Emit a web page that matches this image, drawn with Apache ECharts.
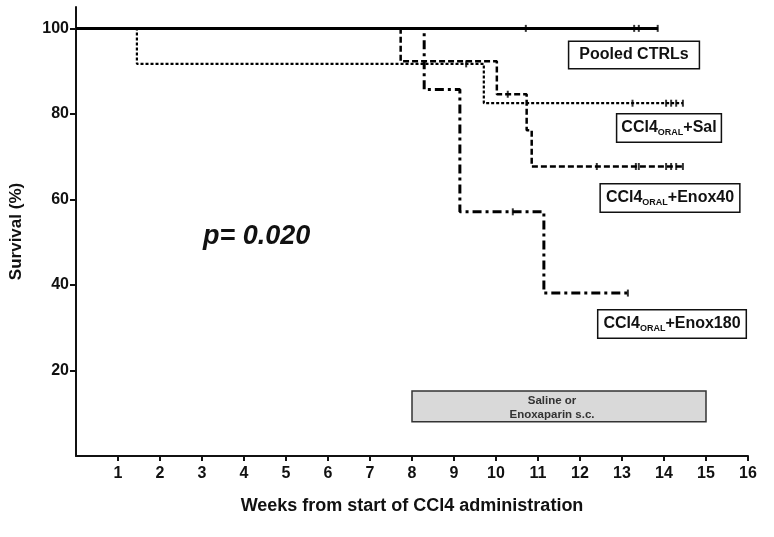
<!DOCTYPE html>
<html><head><meta charset="utf-8">
<script src="https://cdn.jsdelivr.net/npm/echarts@6/dist/echarts.min.js"></script>
<style>html,body{margin:0;padding:0;background:#fff}#c{width:774px;height:537px}</style>
</head><body><div id="c"></div>
<script>
// Kaplan-Meier step curves (weeks, survival %)
const pooledWeeks = [0, 13.86];
const pooledSurv  = [100, 100];
const salWeeks = [0, 1.45, 9.71, 14.45];
const salSurv  = [100, 91.7, 82.5, 82.5];
const enox40Weeks = [0, 7.73, 10.02, 10.73, 10.85, 14.45];
const enox40Surv  = [100, 92.3, 84.6, 76.2, 67.7, 67.7];
const enox180Weeks = [0, 8.29, 9.14, 11.14, 13.14];
const enox180Surv  = [100, 85.7, 57.1, 38.1, 38.1];
// censored observations
const pooledCensWeeks = [10.71, 13.29, 13.40, 13.85];
const pooledCensSurv  = [100, 100, 100, 100];
const salCensWeeks = [9.29, 13.25, 14.05, 14.17, 14.29, 14.45];
const salCensSurv  = [91.7, 82.5, 82.5, 82.5, 82.5, 82.5];
const enox40CensWeeks = [10.28, 12.40, 13.33, 13.40, 14.05, 14.17, 14.29, 14.45];
const enox40CensSurv  = [84.6, 67.7, 67.7, 67.7, 67.7, 67.7, 67.7, 67.7];
const enox180CensWeeks = [10.40, 13.14];
const enox180CensSurv  = [57.1, 38.1];
// treatment window
const treatStart = 8, treatEnd = 15, treatLow = 8, treatHigh = 15.2;
const treatLabel = 'Saline or\nEnoxaparin s.c.';
const xTicks = [1,2,3,4,5,6,7,8,9,10,11,12,13,14,15,16];
const yTicks = [20,40,60,80,100];
const groupLabels = ['Pooled CTRLs', 'CCl4{s|ORAL}+Sal', 'CCl4{s|ORAL}+Enox40', 'CCl4{s|ORAL}+Enox180'];

const zip = (a, b) => a.map((v, i) => [v, b[i]]);
const FONT = '"Liberation Sans", Arial, sans-serif';

const chart = echarts.init(document.getElementById('c'), null, {renderer: 'canvas'});

function stepSeries(name, w, s, type, width, dash) {
  return {
    name, type: 'line', step: 'end', data: zip(w, s), symbol: 'none',
    lineStyle: {color: '#000', width, type: dash || type, cap: 'butt'},
    z: 3
  };
}
function censorSeries(w, s) {
  return {
    type: 'scatter', data: zip(w, s), symbol: 'rect', symbolSize: [2, 7],
    itemStyle: {color: '#000'}, z: 4
  };
}
const labelStyle = {
  fontFamily: FONT, fontWeight: 'bold', fontSize: 16, fill: '#111',
  backgroundColor: '#fff', borderColor: '#111', borderWidth: 1.5,
  align: 'center', verticalAlign: 'middle',
  rich: {s: {fontFamily: FONT, fontWeight: 'bold', fontSize: 9, fill: '#111', padding: [10, 0, 0, 0]}}
};
function box(text, x, y, pad) {
  return {type: 'text', x, y, z: 10, style: Object.assign({}, labelStyle, {text, padding: pad})};
}

chart.setOption({
  animation: false,
  grid: {left: 76, right: 26, top: 7, bottom: 81, containLabel: false},
  xAxis: {
    type: 'value', min: 0, max: 16, interval: 1,
    name: 'Weeks from start of CCl4 administration', nameLocation: 'middle', nameGap: 41,
    nameTextStyle: {fontFamily: FONT, fontWeight: 'bold', fontSize: 18, color: '#111'},
    axisLine: {lineStyle: {color: '#111', width: 2}},
    axisTick: {length: 5, lineStyle: {color: '#111', width: 2}, customValues: xTicks},
    axisLabel: {fontFamily: FONT, fontWeight: 'bold', fontSize: 16, color: '#111', margin: 10, customValues: xTicks},
    splitLine: {show: false}
  },
  yAxis: {
    type: 'value', min: 0, max: 105, interval: 20,
    name: 'Survival (%)', nameLocation: 'middle', nameGap: 51,
    nameTextStyle: {fontFamily: FONT, fontWeight: 'bold', fontSize: 17, color: '#111', padding: [0, 0, 0, 0]},
    axisLine: {show: true, lineStyle: {color: '#111', width: 2}},
    axisTick: {show: true, length: 6, lineStyle: {color: '#111', width: 2}, customValues: yTicks},
    axisLabel: {fontFamily: FONT, fontWeight: 'bold', fontSize: 16, color: '#111', margin: 7, customValues: yTicks},
    splitLine: {show: false}
  },
  series: [
    Object.assign(stepSeries('Enox180', enox180Weeks, enox180Surv, null, 3, [9, 4, 3, 4]), {
      markArea: {
        silent: true,
        itemStyle: {color: '#d9d9d9', borderColor: '#333', borderWidth: 1.5},
        label: {show: true, position: 'inside', offset: [-7, 1], formatter: treatLabel,
          fontFamily: FONT, fontWeight: 'bold', fontSize: 11.5, lineHeight: 14, color: '#333'},
        data: [[{xAxis: treatStart, yAxis: treatLow}, {xAxis: treatEnd, yAxis: treatHigh}]]
      }
    }),
    stepSeries('Enox40', enox40Weeks, enox40Surv, null, 2.5, [6, 3]),
    stepSeries('Sal', salWeeks, salSurv, null, 2.2, [3, 2]),
    stepSeries('Pooled', pooledWeeks, pooledSurv, 'solid', 3),
    censorSeries(enox180CensWeeks, enox180CensSurv),
    censorSeries(enox40CensWeeks, enox40CensSurv),
    censorSeries(salCensWeeks, salCensSurv),
    censorSeries(pooledCensWeeks, pooledCensSurv)
  ],
  graphic: [
    box(groupLabels[0], 634, 55, [5, 10, 5, 10]),
    box(groupLabels[1], 669, 128, [4, 4, 4, 4]),
    box(groupLabels[2], 670, 198, [4, 5, 4, 5]),
    box(groupLabels[3], 672, 324, [4, 5, 4, 5]),
    {type: 'text', x: 203, y: 237, z: 10, style: {text: 'p= 0.020', fontFamily: FONT, fontWeight: 'bold',
      fontStyle: 'italic', fontSize: 27, fill: '#111', align: 'left', verticalAlign: 'middle'}}
  ]
});
</script></body></html>
